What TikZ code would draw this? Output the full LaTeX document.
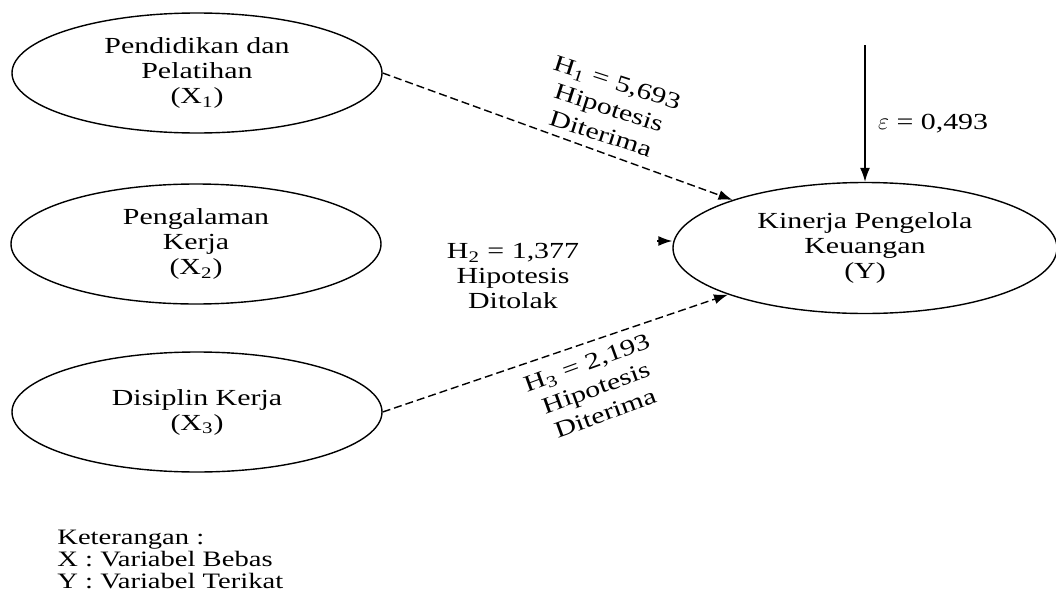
\documentclass[tikz,border=0pt]{standalone}
\usepackage{fontspec}
\setmainfont{Liberation Serif}[FakeStretch=1.3]
\usetikzlibrary{arrows.meta,shapes.geometric}

\begin{document}
\begin{tikzpicture}[x=0.5pt,y=-0.5pt,
	variabel/.style={ellipse,draw,line width=0.7pt,minimum width=185pt,minimum height=60pt,inner sep=0pt,align=center,font=\fontsize{11.5}{12.5}\selectfont},
	hipotesis/.style={align=center,font=\fontsize{11.5}{12.5}\selectfont},
	jalur/.style={dash pattern=on 4pt off 2pt,line width=0.7pt,-{Latex[length=7pt,width=5pt]}},
	residu/.style={line width=0.7pt,-{Latex[length=7pt,width=5pt]}}]
	\useasboundingbox (0,0) rectangle (1056,595);
	\node[variabel] (x1) at (197,73) {Pendidikan dan\\Pelatihan\\(X\textsubscript{1})};
	\node[variabel] (x2) at (196,244) {Pengalaman\\Kerja\\(X\textsubscript{2})};
	\node[variabel] (x3) at (197,412) {Disiplin Kerja\\(X\textsubscript{3})};
	\node[variabel,minimum width=192pt,minimum height=65.5pt] (y) at (865,248) {Kinerja Pengelola\\Keuangan\\(Y)};
	\coordinate (e) at (865,45);
	\coordinate (h2) at (657,241);
	\draw[jalur] (x1.east) -- (y);
	\draw[jalur] (x3.east) -- (y);
	\draw[jalur] (h2) -- (y.west |- h2);
	\draw[residu] (e) -- (y.north);
	\node[hipotesis,rotate=-18,font=\fontsize{11.5}{13.5}\selectfont] (h1label) at (609,108) {H\textsubscript{1} = 5,693\\Hipotesis\\Diterima};
	\node[hipotesis] (h2label) at (513,276) {H\textsubscript{2} = 1,377\\Hipotesis\\Ditolak};
	\node[hipotesis,rotate=20,font=\fontsize{11.5}{13.5}\selectfont] (h3label) at (596,388) {H\textsubscript{3} = 2,193\\Hipotesis\\Diterima};
	\node[anchor=west,font=\fontsize{11.5}{12.5}\selectfont] (elabel) at (871,124) {$\varepsilon$ = 0,493};
	\node[anchor=north west,align=left,inner sep=0pt,font=\fontsize{11}{11}\selectfont] (ket) at (57,530) {Keterangan :\\X : Variabel Bebas\\Y : Variabel Terikat};
\end{tikzpicture}
\end{document}
